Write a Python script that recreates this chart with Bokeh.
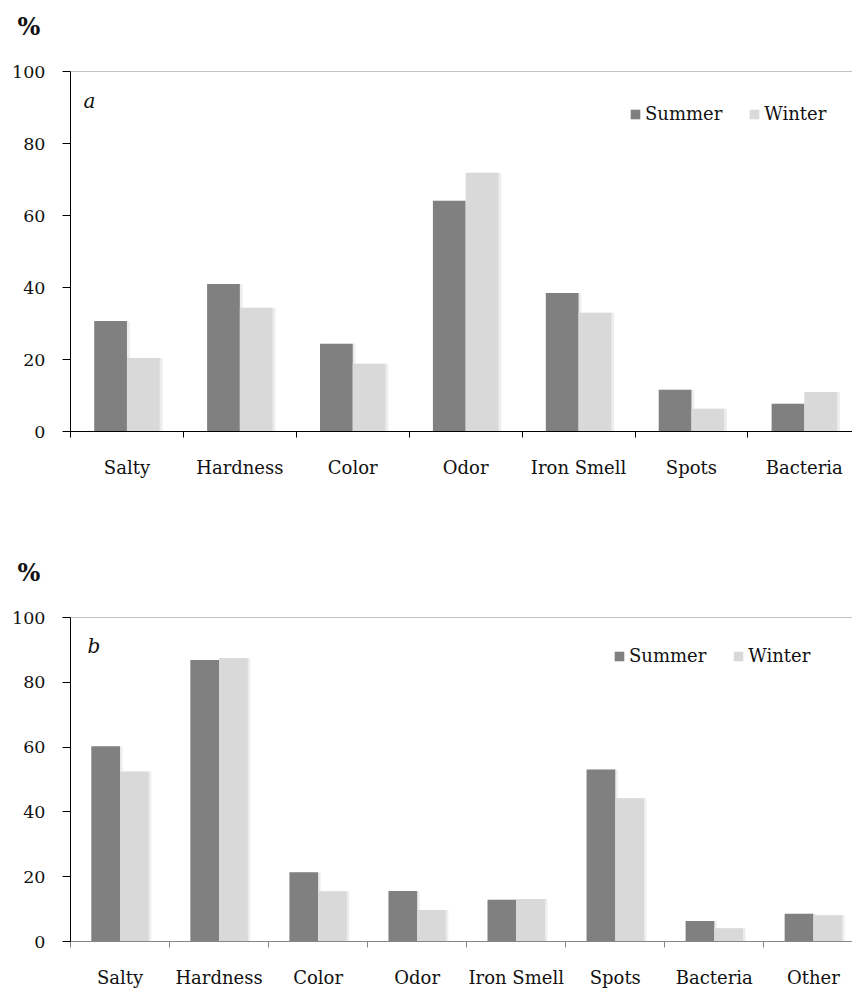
import numpy as np
from bokeh.plotting import figure
from bokeh.models import (Range1d, FixedTicker, Span, Label, Legend, LegendItem,
                          ColumnDataSource, Title)
from bokeh.transform import dodge
from bokeh.layouts import column
from bokeh.embed import file_html
from bokeh.resources import INLINE

# ---------------- data ----------------
cats_a = ["Salty", "Hardness", "Color", "Odor", "Iron Smell", "Spots", "Bacteria"]
summer_a = [30.7, 41.0, 24.4, 64.1, 38.5, 11.6, 7.7]
winter_a = [20.4, 34.4, 18.8, 71.9, 33.0, 6.3, 11.0]

cats_b = ["Salty", "Hardness", "Color", "Odor", "Iron Smell", "Spots", "Bacteria", "Other"]
summer_b = [60.3, 86.9, 21.4, 15.6, 12.9, 53.1, 6.3, 8.6]
winter_b = [52.5, 87.5, 15.5, 9.7, 13.1, 44.2, 4.1, 8.1]

y_ticks = [0, 20, 40, 60, 80, 100]
series_names = ["Summer", "Winter"]

# ---------------- style ----------------
FONT = "DejaVu Serif"
SUMMER_COLOR = "#808080"
WINTER_COLOR = "#d9d9d9"
GRAY_LINE = "#868686"
TEXT_COLOR = "#111111"
WIDTH = 852
FRAME_LEFT = 70
FRAME_W = WIDTH - FRAME_LEFT
BAR_W = 0.29


def make_panel(cats, summer, winter, letter, height, top, bottom, cat_px,
               xaxis_color, legend_loc, letter_xy):
    n = len(cats)
    x_end = -0.5 + FRAME_W / cat_px
    p = figure(width=WIDTH, height=height, title=None,
               x_range=Range1d(-0.5, x_end), y_range=Range1d(0, 100),
               output_backend="svg", toolbar_location=None,
               min_border_left=FRAME_LEFT, min_border_right=0,
               min_border_top=top, min_border_bottom=bottom)
    p.outline_line_color = None
    p.xgrid.visible = False
    p.ygrid.visible = False
    p.background_fill_color = "white"
    p.border_fill_color = "white"

    src = ColumnDataSource(dict(x=list(range(n)), summer=summer, winter=winter))

    # soft shadows
    for off, col in ((-BAR_W / 2, "summer"), (BAR_W / 2, "winter")):
        p.vbar(x=dodge("x", off + 0.025, range=p.x_range), top=col, width=BAR_W,
               source=src, fill_color="#000000", fill_alpha=0.07, line_color=None)

    r1 = p.vbar(x=dodge("x", -BAR_W / 2, range=p.x_range), top="summer", width=BAR_W,
                source=src, fill_color=SUMMER_COLOR, line_color=None)
    r2 = p.vbar(x=dodge("x", BAR_W / 2, range=p.x_range), top="winter", width=BAR_W,
                source=src, fill_color=WINTER_COLOR, line_color=None)

    # top border at 100
    p.add_layout(Span(location=100, dimension="width", line_color=GRAY_LINE, line_width=1))

    # y axis
    ya = p.yaxis[0]
    ya.ticker = FixedTicker(ticks=y_ticks)
    ya.axis_line_color = "#000000"
    ya.major_tick_line_color = "#000000"
    ya.major_tick_out = 8
    ya.major_tick_in = 0
    ya.minor_tick_line_color = None
    ya.major_label_standoff = 17
    ya.major_label_text_font = FONT
    ya.major_label_text_font_size = "17.5px"
    ya.major_label_text_color = TEXT_COLOR

    # x axis
    xa = p.xaxis[0]
    xa.ticker = FixedTicker(ticks=list(range(n)),
                            minor_ticks=[i - 0.5 for i in range(n + 1)])
    xa.major_label_overrides = {i: c for i, c in enumerate(cats)}
    xa.axis_line_color = xaxis_color
    xa.major_tick_line_color = None
    xa.major_tick_out = 0
    xa.major_tick_in = 0
    xa.minor_tick_line_color = xaxis_color
    xa.minor_tick_out = 6
    xa.minor_tick_in = 0
    xa.major_label_standoff = 19
    xa.major_label_text_font = FONT
    xa.major_label_text_font_size = "18px"
    xa.major_label_text_color = TEXT_COLOR

    legend = Legend(items=[LegendItem(label=series_names[0], renderers=[r1]),
                           LegendItem(label=series_names[1], renderers=[r2])],
                    location=legend_loc, orientation="horizontal",
                    padding=0, margin=0, spacing=26,
                    glyph_width=12, glyph_height=12, label_standoff=4,
                    label_height=20,
                    border_line_color=None, background_fill_alpha=0,
                    label_text_font=FONT, label_text_font_size="18px",
                    label_text_color=TEXT_COLOR)
    p.add_layout(legend)

    # spacer title (closest to the frame), then the "%" unit title above it
    p.add_layout(Title(text=" ", text_font_size="1px", standoff=28), "above")
    p.add_layout(Title(text="%", align="left", offset=-53, standoff=0, text_font=FONT,
                       text_font_size="24px", text_font_style="bold",
                       text_color=TEXT_COLOR), "above")
    p.add_layout(Label(x=letter_xy[0], y=letter_xy[1], text=letter, text_font=FONT,
                       text_font_size="20px", text_font_style="italic",
                       text_align="left", text_baseline="alphabetic",
                       text_color=TEXT_COLOR))
    return p


CAT_A = 112.9
CAT_B = 99.05
p1 = make_panel(cats_a, summer_a, winter_a, "a", 490, 71, 59, CAT_A, "#000000",
                (559, 307),
                (-0.5 + (83 - 70) / CAT_A, (431 - 100) / 3.6))
p2 = make_panel(cats_b, summer_b, winter_b, "b", 500, 127, 47, CAT_B, GRAY_LINE,
                (543, 275),
                (-0.5 + (87 - 70) / CAT_B, (943 - 645.7) / 3.26))

layout = column(p1, p2, spacing=0)
open("out.html", "w").write(file_html(layout, INLINE))
